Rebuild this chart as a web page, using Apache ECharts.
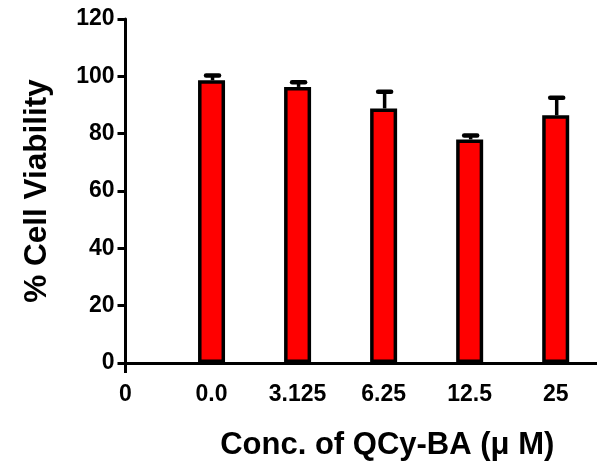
<!DOCTYPE html>
<html>
<head>
<meta charset="utf-8">
<script src="https://cdn.jsdelivr.net/npm/echarts@6/dist/echarts.min.js"></script>
<style>
  html, body { margin: 0; padding: 0; background: #fff; }
  #chart { width: 597px; height: 468px; }
</style>
</head>
<body>
<div id="chart"></div>
<script>
// Tick labels along the concentration axis (position 0 is the origin label)
const xLabels = ['0', '0.0', '3.125', '6.25', '12.5', '25'];
// Bar positions on the x scale
const barPositions = [1, 2, 3, 4, 5];
// Mean viability (%) and upper error (SD) per concentration
const viability = [98.6, 96.3, 88.8, 78.0, 86.4];
const errors = [1.7, 1.6, 5.8, 1.4, 6.1];
// Y axis ticks
const yMin = 0, yMax = 120, yStep = 20;

const FONT = '"Liberation Sans", Arial, sans-serif';

const chart = echarts.init(document.getElementById('chart'), null, { renderer: 'canvas' });

const barData = barPositions.map((p, i) => [p, viability[i]]);
const errData = barPositions.map((p, i) => [p, viability[i], viability[i] + errors[i]]);

chart.setOption({
  animation: false,
  backgroundColor: '#ffffff',
  grid: { left: 125.5, right: 0, top: 19, bottom: 105, containLabel: false },
  xAxis: {
    type: 'value',
    min: 0,
    max: 5.48,
    interval: 1,
    name: 'Conc. of QCy-BA (\u03bc M)',
    nameLocation: 'middle',
    nameGap: 67,
    nameTextStyle: {
      fontFamily: FONT, fontWeight: 'bold', fontSize: 31, color: '#000',
      padding: [0, 0, 0, 52]
    },
    splitLine: { show: false },
    axisLine: { show: true, lineStyle: { color: '#000', width: 3 } },
    axisTick: { show: true, customValues: [0], length: 10, lineStyle: { color: '#000', width: 3 } },
    axisLabel: {
      fontFamily: FONT, fontWeight: 'bold', fontSize: 23, color: '#000', margin: 20,
      showMaxLabel: false,
      formatter: v => (Number.isInteger(v) && xLabels[v] !== undefined) ? xLabels[v] : ''
    }
  },
  yAxis: {
    type: 'value',
    min: yMin,
    max: yMax,
    interval: yStep,
    name: '% Cell Viability',
    nameLocation: 'middle',
    nameGap: 72,
    nameTextStyle: { fontFamily: FONT, fontWeight: 'bold', fontSize: 31.5, color: '#000' },
    splitLine: { show: false },
    axisLine: { show: true, lineStyle: { color: '#000', width: 3 } },
    axisTick: { show: true, length: 8, lineStyle: { color: '#000', width: 3 } },
    axisLabel: { fontFamily: FONT, fontWeight: 'bold', fontSize: 23, color: '#000', margin: 11 }
  },
  series: [
    {
      type: 'bar',
      data: barData,
      barWidth: 27,
      itemStyle: { color: '#ff0000', borderColor: '#000', borderWidth: 3.5 },
      z: 2
    },
    {
      type: 'custom',
      data: errData,
      z: 3,
      renderItem: (params, api) => {
        const x = api.value(0);
        const base = api.coord([x, api.value(1)]);
        const top = api.coord([x, api.value(2)]);
        const capHalf = 6.5;
        return {
          type: 'group',
          children: [
            {
              type: 'line',
              shape: { x1: base[0] + 1, y1: base[1], x2: base[0] + 1, y2: top[1] },
              style: { stroke: '#000', lineWidth: 3.5 }
            },
            {
              type: 'line',
              shape: { x1: base[0] + 1 - capHalf, y1: top[1], x2: base[0] + 1 + capHalf, y2: top[1] },
              style: { stroke: '#000', lineWidth: 4.5, lineCap: 'round' }
            }
          ]
        };
      }
    }
  ]
});
</script>
</body>
</html>
